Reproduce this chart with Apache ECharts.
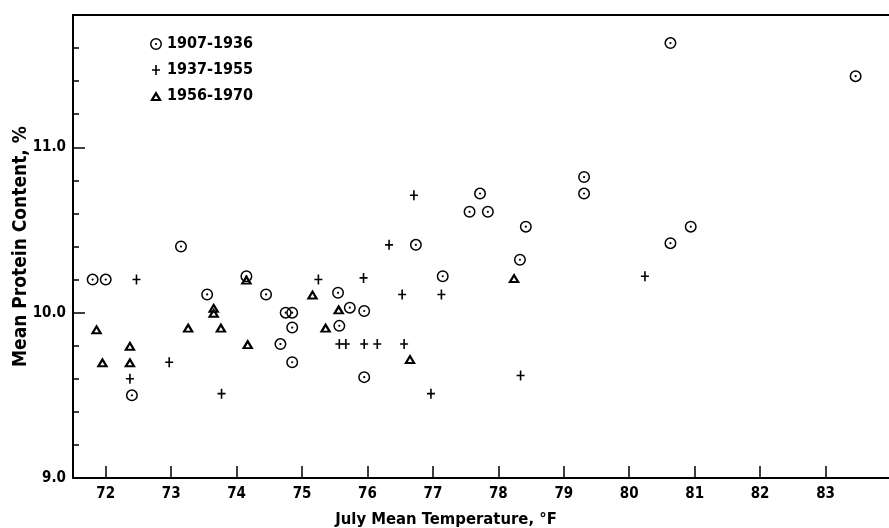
<!DOCTYPE html>
<html>
<head>
<meta charset="utf-8">
<script src="https://cdn.jsdelivr.net/npm/echarts@6/dist/echarts.min.js"></script>
<style>
  html, body { margin: 0; padding: 0; background: #fff; }
  #chart { width: 889px; height: 528px; }
</style>
</head>
<body>
<div id="chart"></div>
<script>
// values
var circleX = [71.8, 72.0, 72.4, 73.15, 73.55, 74.15, 74.45, 74.67, 74.75, 74.85, 74.85, 74.85,
  75.55, 75.57, 75.73, 75.95, 75.95, 76.74, 77.15, 77.56, 77.72, 77.84, 78.33, 78.42,
  79.31, 79.31, 80.63, 80.63, 80.94, 83.46];
var circleY = [10.2, 10.2, 9.5, 10.4, 10.11, 10.22, 10.11, 9.81, 10.0, 10.0, 9.91, 9.7,
  10.12, 9.92, 10.03, 10.01, 9.61, 10.41, 10.22, 10.61, 10.72, 10.61, 10.32, 10.52,
  10.82, 10.72, 11.63, 10.42, 10.52, 11.43];

var plusX = [72.47, 72.37, 72.97, 73.77, 75.25, 75.94, 75.57, 75.67, 75.95, 76.15,
  76.33, 76.53, 76.56, 76.71, 76.97, 77.13, 78.34, 80.24];
var plusY = [10.2, 9.6, 9.7, 9.51, 10.2, 10.21, 9.81, 9.81, 9.81, 9.81,
  10.41, 10.11, 9.81, 10.71, 9.51, 10.11, 9.62, 10.22];

var triX = [71.86, 71.95, 72.37, 72.37, 73.26, 73.65, 73.65, 73.76, 74.15, 74.17,
  75.16, 75.36, 75.56, 76.65, 78.24];
var triY = [9.9, 9.7, 9.8, 9.7, 9.91, 10.03, 10.0, 9.91, 10.2, 9.81,
  10.11, 9.91, 10.02, 9.72, 10.21];

var periods = ['1907-1936', '1937-1955', '1956-1970'];
var xTicks = [72, 73, 74, 75, 76, 77, 78, 79, 80, 81, 82, 83];
var yLabels = [9, 10, 11];
var yMinorTicks = [9.2, 9.4, 9.6, 9.8, 10.2, 10.4, 10.6, 10.8, 11.2, 11.4, 11.6];
var yMajorTicks = [10, 11];

// marker shapes (all in a 12x12 box so legend and plot match)
var symCircle = 'path://M6,0A6,6,0,1,1,6,12A6,6,0,1,1,6,0ZM6,1.5A4.5,4.5,0,1,0,6,10.5A4.5,4.5,0,1,0,6,1.5ZM6,4.9A1.1,1.1,0,1,1,6,7.1A1.1,1.1,0,1,1,6,4.9Z';
var symPlus = 'path://M0,0L0,0ZM12,12L12,12ZM5.2,1H6.8V5.2H10V6.8H6.8V11H5.2V6.8H2V5.2H5.2Z';
var symTri = 'path://M0,0L0,0ZM12,12L12,12ZM6,1L12,11L0,11ZM6,5.4L3.8,9.1L8.2,9.1Z';

function zip(xs, ys) {
  var out = [];
  for (var i = 0; i < xs.length; i++) {
    out.push([xs[i], ys[i]]);
  }
  return out;
}

var font = "'DejaVu Sans Condensed', 'Liberation Sans', sans-serif";

var chart = echarts.init(document.getElementById('chart'));

function makeSeries(name, symbol, xs, ys) {
  return {
    name: name,
    type: 'scatter',
    symbol: symbol,
    symbolSize: 12,
    itemStyle: { color: '#000', borderWidth: 0, opacity: 1 },
    emphasis: { disabled: true },
    data: zip(xs, ys)
  };
}

chart.setOption({
  backgroundColor: '#fff',
  animation: false,
  textStyle: { fontFamily: font },
  grid: { left: 73, right: 0, top: 15, bottom: 50, outerBoundsMode: 'none', containLabel: false, show: false },
  legend: {
    orient: 'vertical',
    left: 145,
    top: 29,
    itemWidth: 12,
    itemHeight: 12,
    itemGap: 6,
    selectedMode: false,
    textStyle: {
      fontFamily: font, fontSize: 16, fontWeight: 'bold', color: '#000', lineHeight: 20
    },
    data: [
      { name: periods[0], icon: symCircle },
      { name: periods[1], icon: symPlus },
      { name: periods[2], icon: symTri }
    ]
  },
  xAxis: [{
    type: 'value',
    min: 71.5,
    max: 83.97,
    name: 'July Mean Temperature, °F',
    nameLocation: 'middle',
    nameGap: 33,
    nameMoveOverlap: false,
    nameTextStyle: {
      fontFamily: font, fontSize: 16.5, fontWeight: 'bold', color: '#000',
      padding: [0, 70, 0, 0]
    },
    axisLine: { show: true, lineStyle: { color: '#000', width: 2 } },
    axisTick: { show: true, inside: true, length: 12, customValues: xTicks, lineStyle: { color: '#000', width: 1.5 } },
    axisLabel: { customValues: xTicks, margin: 9, fontFamily: font, fontSize: 15, fontWeight: 'bold', color: '#000' },
    splitLine: { show: false }
  }, {
    type: 'value',
    position: 'top',
    min: 71.5,
    max: 83.97,
    axisLine: { show: true, lineStyle: { color: '#000', width: 2 } },
    axisTick: { show: false },
    axisLabel: { show: false },
    splitLine: { show: false }
  }],
  yAxis: [{
    type: 'value',
    min: 9,
    max: 11.8,
    name: 'Mean Protein Content, %',
    nameLocation: 'middle',
    nameGap: 42,
    nameMoveOverlap: false,
    nameTextStyle: { fontFamily: font, fontSize: 19, fontWeight: 'bold', color: '#000' },
    axisLine: { show: true, lineStyle: { color: '#000', width: 2 } },
    axisTick: { show: true, inside: true, length: 6, customValues: yMinorTicks, lineStyle: { color: '#000', width: 1.5 } },
    axisLabel: {
      customValues: yLabels, margin: 7,
      fontFamily: font, fontSize: 15, fontWeight: 'bold', color: '#000',
      formatter: function (v) { return v.toFixed(1); }
    },
    splitLine: { show: false }
  }, {
    type: 'value',
    position: 'left',
    offset: 0,
    min: 9,
    max: 11.8,
    axisLine: { show: false, lineStyle: { color: '#fff' } },
    axisTick: { show: true, inside: true, length: 12, customValues: yMajorTicks, lineStyle: { color: '#000', width: 1.5 } },
    axisLabel: { show: false },
    splitLine: { show: false }
  }],
  series: [
    makeSeries(periods[0], symCircle, circleX, circleY),
    makeSeries(periods[1], symPlus, plusX, plusY),
    makeSeries(periods[2], symTri, triX, triY)
  ]
});
</script>
</body>
</html>
